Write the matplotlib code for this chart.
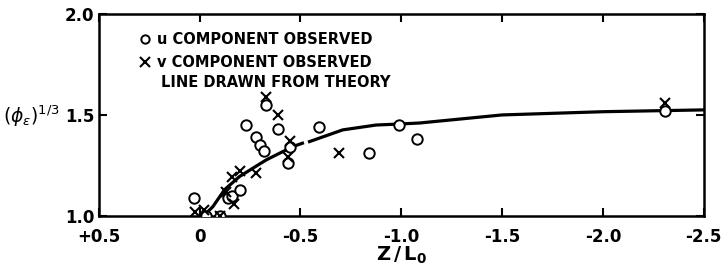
import matplotlib.pyplot as plt
import numpy as np

# observed points (Z/L0, phi_eps^(1/3))
u_z = [-0.10, 0.03, -0.03, -0.14, -0.16, -0.20, -0.23, -0.28, -0.30, -0.32,
       -0.33, -0.39, -0.45, -0.44, -0.59, -0.84, -0.99, -1.08, -2.31]
u_phi = [1.00, 1.09, 1.00, 1.09, 1.10, 1.13, 1.45, 1.39, 1.35, 1.32,
         1.55, 1.43, 1.34, 1.26, 1.44, 1.31, 1.45, 1.38, 1.52]

v_z = [-0.10, 0.025, -0.02, -0.13, -0.16, -0.17, -0.20, -0.28, -0.33, -0.39,
       -0.45, -0.44, -0.69, -2.31]
v_phi = [1.00, 1.02, 1.03, 1.12, 1.195, 1.06, 1.22, 1.21, 1.59, 1.50,
         1.37, 1.29, 1.31, 1.56]

# theory curve (gap in the drawn line near -0.53)
theory_z = [-0.02, -0.066, -0.124, -0.198, -0.264, -0.33, -0.43, -0.462, -0.51,
            np.nan, -0.545, -0.71, -0.875, -0.99, -1.09, -1.5, -2.0, -2.5]
theory_phi = [1.0, 1.046, 1.13, 1.195, 1.236, 1.277, 1.327, 1.343, 1.36,
              np.nan, 1.368, 1.426, 1.45, 1.455, 1.46, 1.50, 1.516, 1.525]

xticks = [0.5, 0.0, -0.5, -1.0, -1.5, -2.0, -2.5]
xticklabels = ["+0.5", "0", "-0.5", "-1.0", "-1.5", "-2.0", "-2.5"]
yticks = [1.0, 1.5, 2.0]

fig = plt.figure(figsize=(7.21, 2.8), dpi=100)
ax = fig.add_axes([0.137, 0.229, 0.839, 0.721])

ax.plot(theory_z, theory_phi, color="black", lw=2.3, zorder=2)
ax.plot(u_z, u_phi, "o", mfc="white", mec="black", mew=1.4, ms=7.5, zorder=3)
ax.plot(v_z, v_phi, "x", color="black", mew=1.5, ms=7, zorder=4)

ax.set_xlim(0.5, -2.5)
ax.set_ylim(1.0, 2.0)
ax.set_xticks(xticks)
ax.set_xticklabels(xticklabels, fontsize=12, fontweight="bold")
ax.set_yticks(yticks)
ax.set_yticklabels(["1.0", "1.5", "2.0"], fontsize=12, fontweight="bold")
ax.tick_params(direction="in", length=6, width=1.5, top=True, right=True, pad=3)
ax.tick_params(axis="x", pad=9)
for s in ax.spines.values():
    s.set_linewidth(1.8)

ax.set_xlabel(r"$\mathbf{Z\,/\,L_0}$", fontsize=14, labelpad=-1)
fig.text(0.004, 0.585, r"$(\phi_{\epsilon})^{1/3}$", fontsize=13.5, ha="left", va="center")

# legend drawn as text block, as in the original
ax.plot([0.27], [1.875], "o", mfc="white", mec="black", mew=1.4, ms=6)
ax.plot([0.27], [1.76], "x", color="black", mew=1.5, ms=7)
ax.text(0.21, 1.875, "u COMPONENT OBSERVED", fontsize=10.5, fontweight="bold", va="center")
ax.text(0.21, 1.76, "v COMPONENT OBSERVED", fontsize=10.5, fontweight="bold", va="center")
ax.text(0.19, 1.66, "LINE DRAWN FROM THEORY", fontsize=10.5, fontweight="bold", va="center")

fig.savefig("out.png", dpi=100)
